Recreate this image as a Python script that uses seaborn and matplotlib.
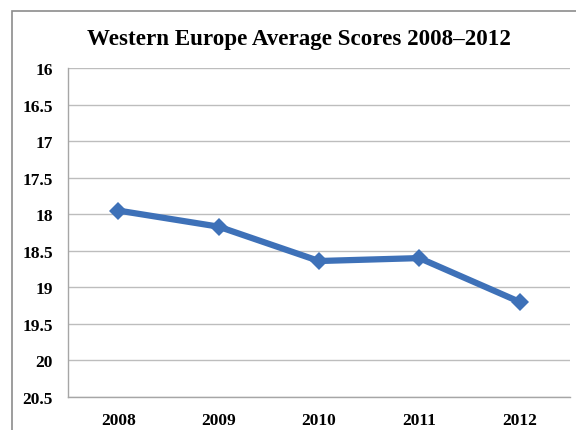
import matplotlib
matplotlib.use("Agg")
import matplotlib.pyplot as plt
from matplotlib.patches import Rectangle
import pandas as pd
import seaborn as sns

# data
years = ["2008", "2009", "2010", "2011", "2012"]
scores = [17.95, 18.17, 18.64, 18.60, 19.20]
y_ticks = [16, 16.5, 17, 17.5, 18, 18.5, 19, 19.5, 20, 20.5]
y_labels = ["16", "16.5", "17", "17.5", "18", "18.5", "19", "19.5", "20", "20.5"]

df = pd.DataFrame({"year": years, "score": scores})

sns.set_style("white")
plt.rcParams["font.family"] = ["Liberation Serif", "DejaVu Serif"]
plt.rcParams["font.weight"] = "bold"
plt.rcParams["text.color"] = "black"
plt.rcParams["xtick.color"] = "black"
plt.rcParams["ytick.color"] = "black"

fig = plt.figure(figsize=(5.76, 4.31), dpi=100)
ax = fig.add_axes([68 / 576, 1 - 398 / 431, (570 - 68) / 576, (398 - 69) / 431])

sns.lineplot(data=df, x="year", y="score", ax=ax, color="#3E71B8",
             linewidth=4.5, marker="D", markersize=9, markeredgewidth=0)

ax.set_xlim(-0.5, len(years) - 0.5)
ax.set_ylim(20.5, 16)
ax.set_yticks(y_ticks)
ax.set_yticklabels(y_labels)
ax.set_xlabel("")
ax.set_ylabel("")
ax.grid(axis="y", color="#BDBDBD", linewidth=1)
ax.grid(axis="x", visible=False)
ax.tick_params(axis="both", length=0, labelsize=12.5, pad=11, labelcolor="black")
for lbl in ax.get_xticklabels() + ax.get_yticklabels():
    lbl.set_fontweight("bold")
for side in ["top", "right"]:
    ax.spines[side].set_visible(False)
for side in ["left", "bottom"]:
    ax.spines[side].set_color("#A6A6A6")
    ax.spines[side].set_linewidth(1)

fig.text(299 / 576, 1 - 45 / 431, "Western Europe Average Scores 2008–2012",
         ha="center", va="baseline", fontsize=16.6, fontweight="bold",
         color="black")

# outer chart frame, cut off at the right and bottom edges
fig.patches.append(Rectangle((12 / 576, -0.05), 1.1, 1 - 12 / 431 + 0.05,
                             transform=fig.transFigure, fill=False,
                             edgecolor="#8C8C8C", linewidth=1.2))

fig.savefig("out.png", dpi=100)
